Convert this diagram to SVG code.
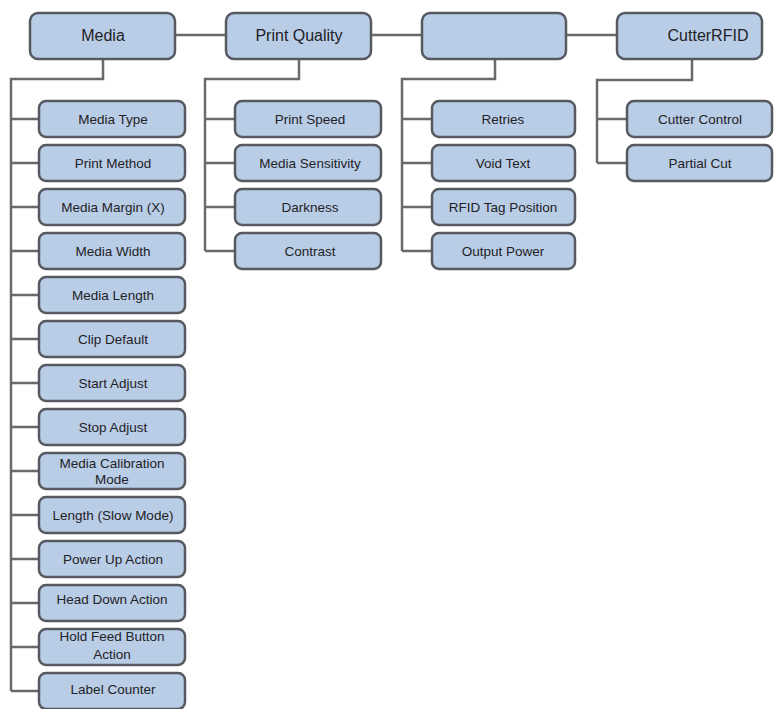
<svg xmlns="http://www.w3.org/2000/svg" width="776" height="709" viewBox="0 0 776 709">
<style>
.box{fill:#b9cde6;stroke:#565a60;stroke-width:2.5}
.t{font-family:"Liberation Sans",Arial,sans-serif;fill:#1f2226;text-anchor:middle}
.top{font-size:16px}
.c{font-size:13.5px}
.ln{fill:none;stroke:#6a6a6a;stroke-width:2.5}
</style>
<rect width="776" height="709" fill="#ffffff"/>
<g id="connectors">
<path class="ln" d="M175,35H226M371,35H422M566,35H617"/>
<path class="ln" d="M103,59V79H11V691"/>
<path class="ln" d="M11,119H39M11,163H39M11,207H39M11,251H39M11,295H39M11,339H39M11,383H39M11,427H39M11,471H39M11,515H39M11,559H39M11,603H39M11,647H39M11,691H39"/>
<path class="ln" d="M299,59V79H205V251M205,119H235M205,163H235M205,207H235M205,251H235"/>
<path class="ln" d="M495,59V79H402V251M402,119H432M402,163H432M402,207H432M402,251H432"/>
<path class="ln" d="M692,59V80H597V163M597,119H627M597,163H627"/>
</g>
<g id="media"><rect class="box" x="30" y="13" width="145" height="46" rx="8"/><text class="t top" x="103" y="41">Media</text></g>
<g id="print-quality"><rect class="box" x="226" y="13" width="145" height="46" rx="8"/><text class="t top" x="299" y="41">Print Quality</text></g>
<g id="rfid"><rect class="box" x="422" y="13" width="144" height="46" rx="8"/></g>
<g id="cutter-rfid"><rect class="box" x="617" y="13" width="145" height="46" rx="8"/><text class="t top" x="708" y="41">CutterRFID</text></g>

<g id="media-type"><rect class="box" x="39" y="101" width="146" height="36" rx="7"/><text class="t c" x="113" y="124">Media Type</text></g>
<g id="print-method"><rect class="box" x="39" y="145" width="146" height="36" rx="7"/><text class="t c" x="113" y="168">Print Method</text></g>
<g id="media-margin"><rect class="box" x="39" y="189" width="146" height="36" rx="7"/><text class="t c" x="113" y="212">Media Margin (X)</text></g>
<g id="media-width"><rect class="box" x="39" y="233" width="146" height="36" rx="7"/><text class="t c" x="113" y="256">Media Width</text></g>
<g id="media-length"><rect class="box" x="39" y="277" width="146" height="36" rx="7"/><text class="t c" x="113" y="300">Media Length</text></g>
<g id="clip-default"><rect class="box" x="39" y="321" width="146" height="36" rx="7"/><text class="t c" x="113" y="344">Clip Default</text></g>
<g id="start-adjust"><rect class="box" x="39" y="365" width="146" height="36" rx="7"/><text class="t c" x="113" y="388">Start Adjust</text></g>
<g id="stop-adjust"><rect class="box" x="39" y="409" width="146" height="36" rx="7"/><text class="t c" x="113" y="432">Stop Adjust</text></g>
<g id="media-calibration"><rect class="box" x="39" y="453" width="146" height="36" rx="7"/><text class="t c" x="112" y="468">Media Calibration</text><text class="t c" x="112" y="484">Mode</text></g>
<g id="length-slow"><rect class="box" x="39" y="497" width="146" height="36" rx="7"/><text class="t c" x="113" y="520">Length (Slow Mode)</text></g>
<g id="power-up"><rect class="box" x="39" y="541" width="146" height="36" rx="7"/><text class="t c" x="113" y="564">Power Up Action</text></g>
<g id="head-down"><rect class="box" x="39" y="585" width="146" height="36" rx="7"/><text class="t c" x="112" y="604">Head Down Action</text></g>
<g id="hold-feed"><rect class="box" x="39" y="629" width="146" height="36" rx="7"/><text class="t c" x="112" y="641">Hold Feed Button</text><text class="t c" x="112" y="659">Action</text></g>
<g id="label-counter"><rect class="box" x="39" y="673" width="146" height="36" rx="7"/><text class="t c" x="113" y="694">Label Counter</text></g>

<g id="print-speed"><rect class="box" x="235" y="101" width="146" height="36" rx="7"/><text class="t c" x="310" y="124">Print Speed</text></g>
<g id="media-sensitivity"><rect class="box" x="235" y="145" width="146" height="36" rx="7"/><text class="t c" x="310" y="168">Media Sensitivity</text></g>
<g id="darkness"><rect class="box" x="235" y="189" width="146" height="36" rx="7"/><text class="t c" x="310" y="212">Darkness</text></g>
<g id="contrast"><rect class="box" x="235" y="233" width="146" height="36" rx="7"/><text class="t c" x="310" y="256">Contrast</text></g>

<g id="retries"><rect class="box" x="432" y="101" width="143" height="36" rx="7"/><text class="t c" x="503" y="124">Retries</text></g>
<g id="void-text"><rect class="box" x="432" y="145" width="143" height="36" rx="7"/><text class="t c" x="503" y="168">Void Text</text></g>
<g id="rfid-tag-position"><rect class="box" x="432" y="189" width="143" height="36" rx="7"/><text class="t c" x="503" y="212">RFID Tag Position</text></g>
<g id="output-power"><rect class="box" x="432" y="233" width="143" height="36" rx="7"/><text class="t c" x="503" y="256">Output Power</text></g>

<g id="cutter-control"><rect class="box" x="627" y="101" width="145" height="36" rx="7"/><text class="t c" x="700" y="124">Cutter Control</text></g>
<g id="partial-cut"><rect class="box" x="627" y="145" width="145" height="36" rx="7"/><text class="t c" x="700" y="168">Partial Cut</text></g>
</svg>
